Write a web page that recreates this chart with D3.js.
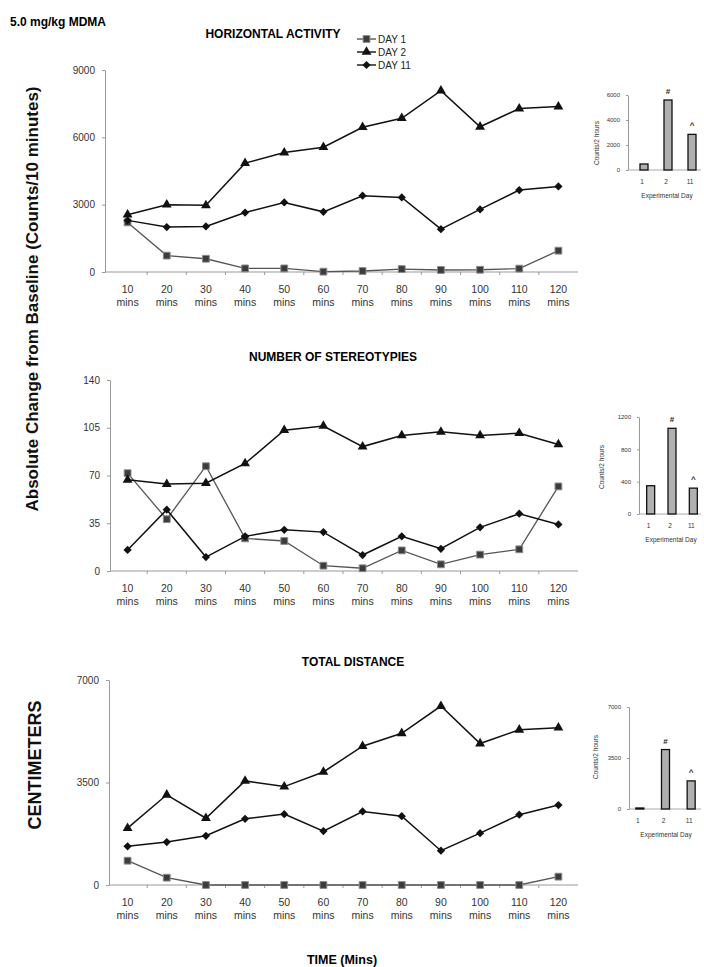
<!DOCTYPE html>
<html>
<head>
<meta charset="utf-8">
<script src="https://cdn.jsdelivr.net/npm/d3@7"></script>
<style>
  body { margin: 0; background: #fff; }
  svg { font-family: "Liberation Sans", Arial, sans-serif; }
  .tick text { fill: #333; }
  .domain, .tick line { stroke: #999; }
</style>
</head>
<body>
<div id="chart"></div>
<script>
// time points (x categories)
var times = ["10", "20", "30", "40", "50", "60", "70", "80", "90", "100", "110", "120"];

// horizontal activity (counts / 10 min)
var hzDay1  = [2210, 730, 590, 160, 160, 15, 45, 130, 90, 100, 150, 950];
var hzDay2  = [2550, 3000, 2970, 4850, 5320, 5560, 6450, 6850, 8080, 6470, 7280, 7370];
var hzDay11 = [2300, 2000, 2030, 2650, 3100, 2680, 3400, 3320, 1910, 2790, 3650, 3810];

// number of stereotypies
var stDay1  = [71.7, 38, 76.8, 23.9, 22, 3.9, 2, 15.1, 4.9, 12, 15.9, 62];
var stDay2  = [66.8, 63.7, 64.4, 78.8, 103.2, 106.3, 91.2, 99.3, 102, 99.3, 101, 92.7];
var stDay11 = [15.4, 44.9, 10.2, 25.4, 30.2, 28.5, 11.7, 25.4, 16.3, 32, 42, 34.1];

// total distance (cm)
var tdDay1  = [830, 250, 0, 0, 0, 0, 0, 0, 0, 0, 0, 285];
var tdDay2  = [1943, 3080, 2280, 3555, 3360, 3860, 4740, 5180, 6110, 4830, 5300, 5370];
var tdDay11 = [1320, 1465, 1680, 2260, 2420, 1840, 2510, 2350, 1170, 1770, 2400, 2730];

// inset totals (counts / 2 hours)
var insetDays = ["1", "2", "11"];
var hzTotals = [480, 5600, 2850];
var stTotals = [350, 1060, 320];
var tdTotals = [70, 4080, 1930];
var insetMarks = ["", "#", "^"];

// tick values
var hzTicks = [0, 3000, 6000, 9000];
var stTicks = [0, 35, 70, 105, 140];
var tdTicks = [0, 3500, 7000];
var hzInsetTicks = [0, 2000, 4000, 6000];
var stInsetTicks = [0, 400, 800, 1200];
var tdInsetTicks = [0, 3500, 7000];

var legendNames = ["DAY 1", "DAY 2", "DAY 11"];

var w = 704, h = 967;

var svg = d3.select("#chart").append("svg")
    .attr("width", w)
    .attr("height", h);

var xScale = d3.scaleBand().domain(times).range([108, 578]);

// marker generators
var sym = {
    square: d3.symbol().type(d3.symbolSquare).size(46),
    triangle: d3.symbol().type(d3.symbolTriangle).size(42),
    diamond: d3.symbol().type(d3.symbolSquare).size(34)
};

function drawMarker(g, kind, x, y) {
    var p = g.append("path")
        .attr("d", sym[kind]())
        .attr("transform", "translate(" + x + "," + y + ")" + (kind == "diamond" ? " rotate(45)" : ""));
    if (kind == "square") {
        p.attr("fill", "#3c3c3c").attr("stroke", "#8a8a8a").attr("stroke-width", 1);
    } else {
        p.attr("fill", "#111");
    }
}

function drawPanel(cfg) {
    var yScale = d3.scaleLinear()
        .domain([0, cfg.ticks[cfg.ticks.length - 1]])
        .range([cfg.bottom, cfg.top]);

    var g = svg.append("g");

    // y axis
    g.append("g")
        .attr("transform", "translate(" + cfg.axisX + ",0)")
        .call(d3.axisLeft(yScale).tickValues(cfg.ticks).tickFormat(d3.format("d"))
            .tickSize(3).tickSizeOuter(0))
        .call(function(a) {
            a.selectAll("text").attr("font-size", 10).attr("dx", "-4");
        });

    // x axis line + boundary ticks
    g.append("line")
        .attr("x1", cfg.axisX).attr("x2", xScale.range()[1])
        .attr("y1", cfg.bottom).attr("y2", cfg.bottom)
        .attr("stroke", "#999");
    g.selectAll(".xt").data(times.slice(1))
        .enter().append("line")
        .attr("x1", function(d) { return xScale(d); })
        .attr("x2", function(d) { return xScale(d); })
        .attr("y1", cfg.bottom).attr("y2", cfg.bottom + 3)
        .attr("stroke", "#999");

    var lab = g.selectAll(".xl").data(times).enter().append("text")
        .attr("text-anchor", "middle")
        .attr("font-size", 10.5)
        .attr("fill", "#333");
    lab.append("tspan")
        .attr("x", function(d) { return xScale(d) + xScale.bandwidth() / 2; })
        .attr("y", cfg.bottom + 21)
        .text(function(d) { return d; });
    lab.append("tspan")
        .attr("x", function(d) { return xScale(d) + xScale.bandwidth() / 2; })
        .attr("y", cfg.bottom + 34)
        .text("mins");

    // title
    g.append("text")
        .attr("x", cfg.titleX).attr("y", cfg.titleY)
        .attr("text-anchor", "middle")
        .attr("font-size", 12)
        .attr("font-weight", "bold")
        .text(cfg.title);

    var line = d3.line()
        .x(function(d, i) { return xScale(times[i]) + xScale.bandwidth() / 2; })
        .y(function(d) { return yScale(d); });

    var series = [
        { vals: cfg.d1, kind: "square", color: "#555", width: 1.3 },
        { vals: cfg.d2, kind: "triangle", color: "#111", width: 1.5 },
        { vals: cfg.d11, kind: "diamond", color: "#111", width: 1.5 }
    ];

    series.forEach(function(s) {
        g.append("path")
            .datum(s.vals)
            .attr("fill", "none")
            .attr("stroke", s.color)
            .attr("stroke-width", s.width)
            .attr("d", line);
        s.vals.forEach(function(v, i) {
            drawMarker(g, s.kind, xScale(times[i]) + xScale.bandwidth() / 2, yScale(v));
        });
    });
}

function drawInset(cfg) {
    var yScale = d3.scaleLinear()
        .domain([0, cfg.ticks[cfg.ticks.length - 1]])
        .range([cfg.bottom, cfg.top]);
    var xb = d3.scaleBand().domain(insetDays).range(cfg.xr);

    var g = svg.append("g");

    g.append("g")
        .attr("transform", "translate(" + cfg.axisX + ",0)")
        .call(d3.axisLeft(yScale).tickValues(cfg.ticks).tickFormat(d3.format("d"))
            .tickSize(2).tickSizeOuter(0))
        .call(function(a) {
            a.selectAll("text").attr("font-size", 6).attr("dx", "-3");
            a.select(".domain").attr("stroke", "#aaa");
        });

    g.append("line")
        .attr("x1", cfg.axisX).attr("x2", 701)
        .attr("y1", cfg.bottom).attr("y2", cfg.bottom)
        .attr("stroke", "#aaa");

    g.selectAll("rect").data(cfg.vals).enter().append("rect")
        .attr("x", function(d, i) { return xb(insetDays[i]) + xb.bandwidth() / 2 - 4; })
        .attr("y", function(d) { return yScale(d); })
        .attr("width", 8)
        .attr("height", function(d) { return cfg.bottom - yScale(d); })
        .attr("fill", "#b0b0b0")
        .attr("stroke", "#111")
        .attr("stroke-width", 1.3);

    g.selectAll(".mk").data(cfg.vals).enter().append("text")
        .attr("x", function(d, i) { return xb(insetDays[i]) + xb.bandwidth() / 2; })
        .attr("y", function(d) { return yScale(d) - 6; })
        .attr("text-anchor", "middle")
        .attr("font-size", 8)
        .attr("font-weight", "bold")
        .attr("fill", "#222")
        .text(function(d, i) { return insetMarks[i]; });

    g.selectAll(".dl").data(insetDays).enter().append("text")
        .attr("x", function(d) { return xb(d) + xb.bandwidth() / 2 - 2; })
        .attr("y", cfg.bottom + 14)
        .attr("text-anchor", "middle")
        .attr("font-size", 6.5)
        .attr("fill", "#333")
        .text(function(d) { return d; });

    g.append("text")
        .attr("x", cfg.xlabX).attr("y", cfg.bottom + 28)
        .attr("text-anchor", "middle")
        .attr("font-size", 6.5)
        .attr("fill", "#333")
        .text("Experimental Day");

    g.append("text")
        .attr("transform", "translate(" + cfg.ylabX + "," + cfg.ylabY + ") rotate(-90)")
        .attr("text-anchor", "middle")
        .attr("font-size", 6.5)
        .attr("fill", "#333")
        .text("Counts/2 hours");
}

drawPanel({ title: "HORIZONTAL ACTIVITY", titleX: 273, titleY: 38,
    ticks: hzTicks, axisX: 105, top: 70, bottom: 272,
    d1: hzDay1, d2: hzDay2, d11: hzDay11 });
drawPanel({ title: "NUMBER OF STEREOTYPIES", titleX: 333, titleY: 361,
    ticks: stTicks, axisX: 110, top: 380, bottom: 571,
    d1: stDay1, d2: stDay2, d11: stDay11 });
drawPanel({ title: "TOTAL DISTANCE", titleX: 353, titleY: 666,
    ticks: tdTicks, axisX: 109, top: 680, bottom: 885,
    d1: tdDay1, d2: tdDay2, d11: tdDay11 });

drawInset({ ticks: hzInsetTicks, vals: hzTotals, axisX: 628, top: 95, bottom: 170,
    xr: [632, 704], xlabX: 667, ylabX: 599, ylabY: 143 });
drawInset({ ticks: stInsetTicks, vals: stTotals, axisX: 639, top: 417, bottom: 514,
    xr: [640, 704], xlabX: 671, ylabX: 604, ylabY: 467 });
drawInset({ ticks: tdInsetTicks, vals: tdTotals, axisX: 629, top: 707, bottom: 809,
    xr: [627, 704], xlabX: 666, ylabX: 598, ylabY: 757 });

// legend
var legend = svg.append("g");
var legendKinds = ["square", "triangle", "diamond"];
legendNames.forEach(function(n, i) {
    var y = 39 + i * 13;
    legend.append("line")
        .attr("x1", 357).attr("x2", 376)
        .attr("y1", y).attr("y2", y)
        .attr("stroke", i == 0 ? "#555" : "#111")
        .attr("stroke-width", 1.4);
    drawMarker(legend, legendKinds[i], 366.5, y);
    legend.append("text")
        .attr("x", 378).attr("y", y + 4)
        .attr("font-size", 10)
        .attr("fill", "#222")
        .text(n);
});

// page-level labels
svg.append("text")
    .attr("x", 10).attr("y", 26)
    .attr("font-size", 12)
    .attr("font-weight", "bold")
    .text("5.0 mg/kg MDMA");

svg.append("text")
    .attr("transform", "translate(38,299) rotate(-90)")
    .attr("text-anchor", "middle")
    .attr("font-size", 17)
    .attr("font-weight", "bold")
    .attr("fill", "#111")
    .text("Absolute Change from Baseline (Counts/10 minutes)");

svg.append("text")
    .attr("transform", "translate(41,765) rotate(-90)")
    .attr("text-anchor", "middle")
    .attr("font-size", 18)
    .attr("font-weight", "bold")
    .attr("fill", "#111")
    .text("CENTIMETERS");

svg.append("text")
    .attr("x", 342).attr("y", 964)
    .attr("text-anchor", "middle")
    .attr("font-size", 12.5)
    .attr("font-weight", "bold")
    .text("TIME (Mins)");
</script>
</body>
</html>
